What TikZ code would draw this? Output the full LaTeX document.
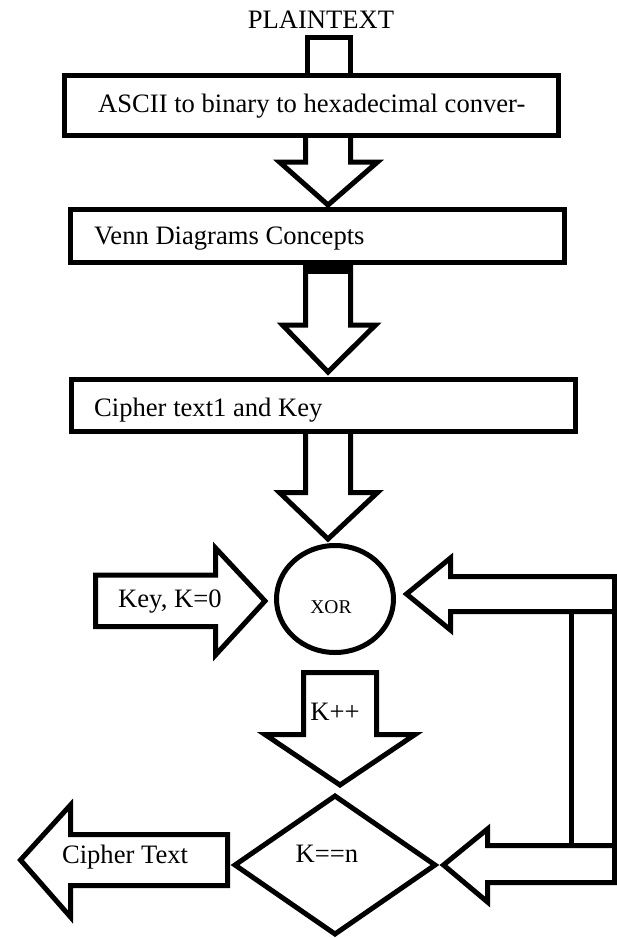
\documentclass[tikz,border=0pt]{standalone}
\usepackage{fontspec}
\setmainfont{Liberation Serif}
\begin{document}
\begin{tikzpicture}[x=1pt,y=-1pt,line join=miter,
  blk/.style={draw=black,line width=5pt,fill=white},
  boxnode/.style={draw=black,line width=5pt,fill=white,inner sep=0pt,outer sep=0pt,anchor=north west},
  lbl/.style={inner sep=0pt,font=\fontsize{26.6}{30}\selectfont},
  smalllbl/.style={inner sep=0pt,font=\fontsize{19.5}{22}\selectfont}]
\useasboundingbox (0,0) rectangle (617,938);

% plaintext stem
\draw[blk] (307.5,75.5) -- (307.5,37.5) -- (350.5,37.5) -- (350.5,75.5);
% arrow box1 -> box2
\draw[blk] (305.5,135.5) -- (305.5,162) -- (279.5,162) -- (328,205) -- (377.5,162) -- (350.5,162) -- (350.5,135.5);
% arrow box2 -> box3
\draw[blk] (305.5,262.5) -- (305.5,325) -- (282.5,325) -- (328,372) -- (375.5,325) -- (350.5,325) -- (350.5,262.5);
\fill (303,262.5) rectangle (353,274);
% arrow box3 -> xor
\draw[blk] (305.5,431.5) -- (305.5,492.5) -- (279.5,492.5) -- (328,539) -- (377.5,492.5) -- (350.5,492.5) -- (350.5,431.5);

% boxes
\node[boxnode,minimum width=494pt,minimum height=60pt] (b1) at (64.5,75.5) {};
\node[boxnode,minimum width=494pt,minimum height=53pt] (b2) at (70.5,209.5) {};
\node[boxnode,minimum width=504pt,minimum height=52pt] (b3) at (71.5,379.5) {};

% xor circle
\draw[line width=5pt] (335,599) ellipse [x radius=58.5, y radius=53.5];
\coordinate (xor) at (335,599);

% key arrow
\draw[blk] (95.5,575) -- (215.5,575) -- (215.5,548) -- (265,601) -- (215.5,655) -- (215.5,626.5) -- (95.5,626.5) -- cycle;
% right arrow into xor
\draw[blk] (614.5,576.5) -- (450.5,576.5) -- (450.5,558) -- (406.5,594) -- (450.5,630) -- (450.5,611.5) -- (614.5,611.5) -- cycle;
% loop verticals
\draw[line width=5pt] (571.5,611.5) -- (571.5,845.5);
\draw[line width=5pt] (614.5,611.5) -- (614.5,845.5);
% K++ arrow
\draw[blk] (303.5,672.5) -- (376.5,672.5) -- (376.5,734.5) -- (415,734.5) -- (340,785) -- (265,734.5) -- (303.5,734.5) -- cycle;
% diamond
\draw[blk] (335,796) -- (435,865) -- (335,934) -- (235,865) -- cycle;
% bottom right arrow
\draw[blk] (614.5,845.5) -- (487.5,845.5) -- (487.5,829) -- (443.5,865) -- (487.5,902) -- (487.5,882.5) -- (614.5,882.5) -- cycle;
% cipher text arrow
\draw[blk] (227.5,834.5) -- (70.5,834.5) -- (70.5,805) -- (20.5,860) -- (70.5,917) -- (70.5,885.5) -- (227.5,885.5) -- cycle;

% texts
\node[lbl,anchor=base] (tpt) at (321,28) {PLAINTEXT};
\node[lbl,anchor=base west] (t1) at (98,112) {ASCII to binary to hexadecimal conver-};
\node[lbl,anchor=base west] (t2) at (94,244) {Venn Diagrams Concepts};
\node[lbl,anchor=base west] (t3) at (94,416) {Cipher text1 and Key};
\node[smalllbl,anchor=base] (txor) at (331,613) {XOR};
\node[lbl,anchor=base west] (tkey) at (118,607) {Key, K=0};
\node[lbl,anchor=base] (tkpp) at (335,720) {K++};
\node[lbl,anchor=base] (tkn) at (327,862) {K==n};
\node[lbl,anchor=base] (tct) at (125,863) {Cipher Text};
\end{tikzpicture}
\end{document}
